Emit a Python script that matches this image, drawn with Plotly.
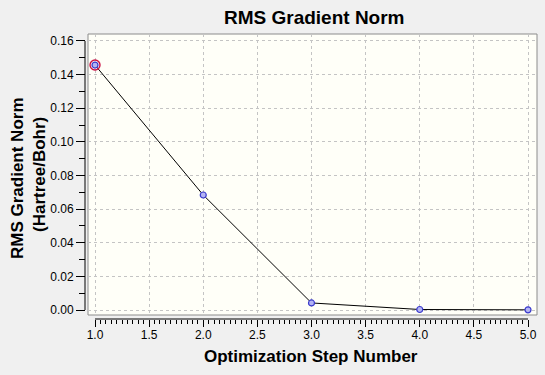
import plotly.graph_objects as go

# ---- data ----
steps = [1, 2, 3, 4, 5]
rms_grad = [0.1457, 0.0684, 0.0042, 0.0003, 0.0001]
highlight_step = [1]
highlight_val = [0.1457]
x_ticks = [1.0, 1.5, 2.0, 2.5, 3.0, 3.5, 4.0, 4.5, 5.0]
y_ticks = [0.00, 0.02, 0.04, 0.06, 0.08, 0.10, 0.12, 0.14, 0.16]
title_text = "RMS Gradient Norm"
x_title = "Optimization Step Number"
y_title_1 = "RMS Gradient Norm"
y_title_2 = "(Hartree/Bohr)"

# ---- layout geometry (pixels) ----
W, H = 545, 375
L, R, T, B = 85, 8, 34, 56          # paper = axis lines region
PW, PH = W - L - R, H - T - B
frame_left, frame_bottom = 88, 315

def px(xp):
    return (xp - L) / PW

def py(yp):
    return (H - B - yp) / PH

x_minor = [round(x_ticks[0] + 0.05 * i, 2) for i in range(int(round((x_ticks[-1] - x_ticks[0]) / 0.05)) + 1)]
y_minor = [round(y_ticks[0] + 0.01 * i, 2) for i in range(int(round((y_ticks[-1] - y_ticks[0]) / 0.01)) + 1)]

fig = go.Figure()
fig.add_trace(go.Scatter(
    x=steps, y=rms_grad, mode="lines+markers",
    line=dict(color="black", width=1),
    marker=dict(size=6, color="#b4b4f4", line=dict(color="#3a3acc", width=1.2)),
    showlegend=False, cliponaxis=False,
))
fig.add_trace(go.Scatter(
    x=highlight_step, y=highlight_val, mode="markers",
    marker=dict(size=10, color="#cc1144", symbol="circle-open",
                line=dict(color="#cc1144", width=1.4)),
    showlegend=False, cliponaxis=False,
))

font = "Liberation Sans, Arial, sans-serif"
grid = dict(showgrid=True, gridcolor="#c4c4c4", griddash="3px,3px", gridwidth=1)

fig.update_layout(
    width=W, height=H,
    margin=dict(l=L, r=R, t=T, b=B, pad=0),
    paper_bgcolor="#f0f0f0",
    plot_bgcolor="#fffff8",
    font=dict(family=font, size=12, color="black"),
    xaxis=dict(
        domain=[px(frame_left), 1], anchor="free", position=0,
        range=[0.9353, 5.0831], tickmode="array", tickvals=x_ticks,
        tickformat=".1f", ticks="outside", ticklen=7, tickcolor="black",
        showline=False, zeroline=False, automargin=False,
        ticklabelstandoff=-2,
        minor=dict(tickmode="array", tickvals=x_minor, ticks="outside",
                   ticklen=4, tickcolor="black", showgrid=False),
        tickfont=dict(size=12), **grid,
    ),
    yaxis=dict(
        domain=[py(frame_bottom), 1], anchor="free", position=0,
        range=[-0.00297, 0.16416], tickmode="array", tickvals=y_ticks,
        tickformat=".2f", ticks="outside", ticklen=9, tickcolor="black",
        showline=False, zeroline=False, automargin=False,
        minor=dict(tickmode="array", tickvals=y_minor, ticks="outside",
                   ticklen=6, tickcolor="black", showgrid=False),
        tickfont=dict(size=12), **grid,
    ),
    shapes=[
        dict(type="rect", xref="paper", yref="paper",
             x0=px(frame_left), x1=1, y0=py(frame_bottom), y1=1,
             line=dict(color="#8c8c8c", width=1), layer="below"),
        dict(type="line", xref="x", yref="paper", x0=x_ticks[0], x1=x_ticks[-1],
             y0=0, y1=0, line=dict(color="black", width=1)),
        dict(type="line", xref="paper", yref="y", x0=0, x1=0,
             y0=y_ticks[0], y1=y_ticks[-1], line=dict(color="black", width=1)),
    ],
    annotations=[
        dict(text="<b>%s</b>" % title_text, xref="paper", yref="paper",
             x=px(314), y=py(17.5), xanchor="center", yanchor="middle",
             showarrow=False, font=dict(size=19)),
        dict(text="<b>%s</b>" % x_title, xref="paper", yref="paper",
             x=px(311), y=py(356), xanchor="center", yanchor="middle",
             showarrow=False, font=dict(size=17)),
        dict(text="<b>%s</b>" % y_title_1, xref="paper", yref="paper",
             x=px(17), y=py(178), xanchor="center", yanchor="middle",
             textangle=-90, showarrow=False, font=dict(size=17)),
        dict(text="<b>%s</b>" % y_title_2, xref="paper", yref="paper",
             x=px(39), y=py(175), xanchor="center", yanchor="middle",
             textangle=-90, showarrow=False, font=dict(size=17)),
    ],
)

fig.write_html("out.html", config={"displayModeBar": False},
               post_script="document.body.style.margin='0';")
